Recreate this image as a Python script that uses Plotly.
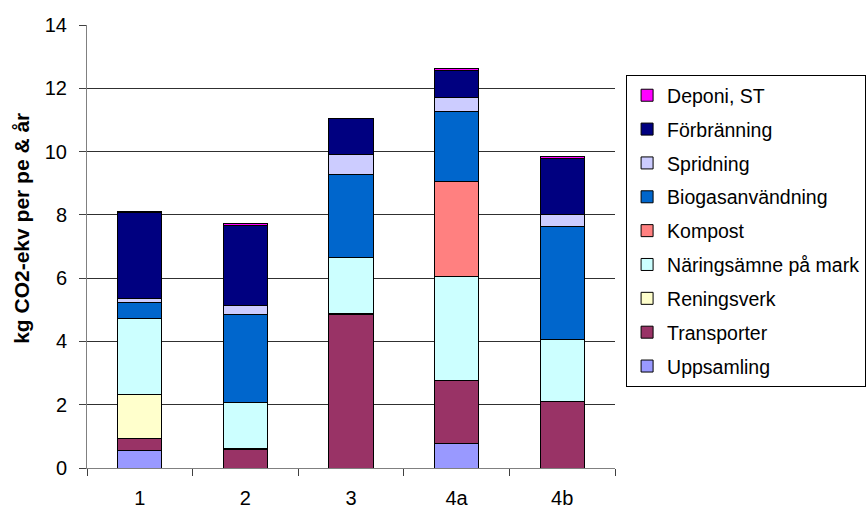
import plotly.graph_objects as go

categories = ["1", "2", "3", "4a", "4b"]

# Stacked contributions (kg CO2-ekv per pe & år), bottom to top
uppsamling = [0.54, 0.0, 0.0, 0.79, 0.0]
transporter = [0.38, 0.58, 4.84, 1.96, 2.11]
reningsverk = [1.41, 0.05, 0.05, 0.0, 0.0]
naring = [2.38, 1.43, 1.77, 3.31, 1.95]
kompost = [0.0, 0.0, 0.0, 2.98, 0.0]
biogas = [0.53, 2.80, 2.60, 2.24, 3.57]
spridning = [0.12, 0.26, 0.66, 0.43, 0.39]
forbranning = [2.71, 2.53, 1.12, 0.86, 1.75]
deponi = [0.04, 0.08, 0.0, 0.04, 0.08]

series = [
    ("Uppsamling", uppsamling, "#9999FF"),
    ("Transporter", transporter, "#993366"),
    ("Reningsverk", reningsverk, "#FFFFCC"),
    ("Näringsämne på mark", naring, "#CCFFFF"),
    ("Kompost", kompost, "#FF8080"),
    ("Biogasanvändning", biogas, "#0066CC"),
    ("Spridning", spridning, "#CCCCFF"),
    ("Förbränning", forbranning, "#000080"),
    ("Deponi, ST", deponi, "#FF00FF"),
]

fig = go.Figure()
n = len(series)
for i, (name, vals, color) in enumerate(series):
    fig.add_trace(go.Bar(
        x=categories, y=vals, name=name,
        legendgroup=name, legendrank=n - i,
        marker=dict(color=color, line=dict(color="black", width=1)),
        width=0.417,
    ))

font_family = "Liberation Sans, Arial, sans-serif"

fig.update_layout(
    barmode="stack",
    width=867, height=508,
    margin=dict(l=87, r=252, t=25, b=40, autoexpand=False),
    paper_bgcolor="white", plot_bgcolor="white",
    font=dict(family=font_family, size=20, color="black"),
    showlegend=True,
    legend=dict(
        x=1.021, y=0.887, xanchor="left", yanchor="top",
        traceorder="grouped", tracegroupgap=5.5,
        bordercolor="black", borderwidth=1,
        font=dict(family=font_family, size=19.5, color="black"),
        itemwidth=30,
    ),
    xaxis=dict(
        showline=True, linecolor="#808080", linewidth=1,
        ticks="outside", tickson="boundaries", ticklen=7, tickcolor="#404040",
        tickfont=dict(size=20), showgrid=False, ticklabelstandoff=12,
    ),
    yaxis=dict(
        range=[0, 14], dtick=2,
        showline=True, linecolor="#808080", linewidth=1,
        ticks="outside", ticklen=7, tickcolor="#404040",
        showgrid=True, gridcolor="#303030", gridwidth=1,
        tickfont=dict(size=20), ticklabelstandoff=8,
        zeroline=False,
    ),
    annotations=[dict(
        text="<b>kg CO2-ekv per pe & år</b>",
        textangle=-90, xref="paper", yref="paper",
        x=-0.123, y=0.54, xanchor="center", yanchor="middle",
        showarrow=False, font=dict(size=21),
    )],
)

fig.write_html("out.html")
